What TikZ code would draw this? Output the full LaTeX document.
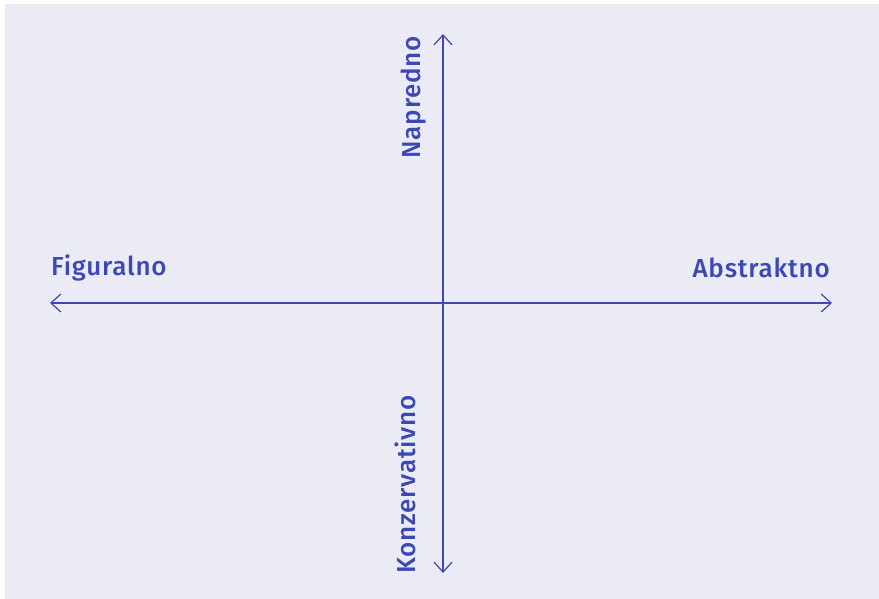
\documentclass[tikz,border=0pt]{standalone}
\usepackage{fontspec}
\setmainfont{Fira Sans}[UprightFont=* Medium, LetterSpace=3]
\usepackage{xcolor}
\usetikzlibrary{arrows.meta}

\definecolor{axisblue}{HTML}{3C48B4}
\definecolor{panelbg}{HTML}{EBEBF5}

\begin{document}
\begin{tikzpicture}[x=1pt, y=-1pt,
    axis/.style={draw=axisblue, line width=1.2pt, {Straight Barb[length=10pt, width=18pt]}-{Straight Barb[length=10pt, width=18pt]}},
    label/.style={text=axisblue, inner sep=0pt, font=\fontsize{26}{30}\selectfont}]
   % okvir i pozadina
   \useasboundingbox (0,0) rectangle (879,599);
   \fill[panelbg] (5,4) rectangle (879,599);

   % krajnje tocke osi
   \coordinate (left) at (50,303);
   \coordinate (right) at (832,303);
   \coordinate (top) at (443,34);
   \coordinate (bottom) at (443,573);

   % osi
   \path[axis] (left) -- (right);
   \path[axis] (bottom) -- (top);

   % oznake
   \node[label, anchor=base west] (figuralno) at (51,275) {Figuralno};
   \node[label, anchor=base east] (abstraktno) at (830,277) {Abstraktno};
   \node[label, anchor=base east, rotate=90] (napredno) at (420,36) {Napredno};
   \node[label, anchor=base east, rotate=90] (konzervativno) at (415,395) {Konzervativno};
\end{tikzpicture}
\end{document}
